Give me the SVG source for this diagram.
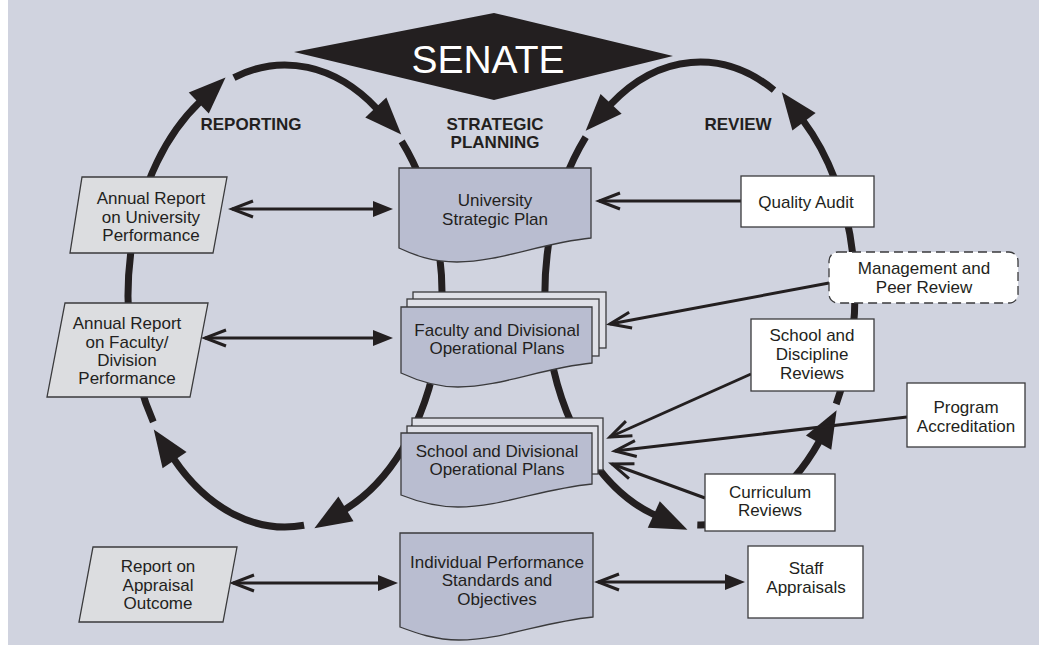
<svg xmlns="http://www.w3.org/2000/svg" width="1039" height="658" viewBox="0 0 1039 658">
<style>
text{font-family:"Liberation Sans",Arial,Helvetica,sans-serif;fill:#231f20;font-size:17px;text-anchor:middle}
.lbl{font-weight:bold}
.big{fill:none;stroke:#231f20;stroke-width:7;marker-end:url(#bigHead)}
.bigplain{fill:none;stroke:#231f20;stroke-width:7}
.doc{fill:#b9bdd0;stroke:#3a3a3c;stroke-width:1.3}
.page{fill:#dfe0e7;stroke:#3a3a3c;stroke-width:1.3}
.rep{fill:#dcdde0;stroke:#3a3a3c;stroke-width:1.3}
.box{fill:#ffffff;stroke:#3a3a3c;stroke-width:1.3}
.dash{fill:#ffffff;stroke:#3a3a3c;stroke-width:1.3;stroke-dasharray:9 5}
.thin{fill:none;stroke:#231f20;stroke-width:3;marker-end:url(#chev)}
.dbl{fill:none;stroke:#231f20;stroke-width:3;marker-start:url(#chev);marker-end:url(#tri)}
</style>
<defs>
<marker id="bigHead" markerUnits="userSpaceOnUse" viewBox="-2 -16 40 32" refX="0" refY="0" markerWidth="40" markerHeight="32" orient="auto">
<path d="M-1,-14.5 L36,0 L-1,14.5 Z" fill="#231f20"/>
</marker>
<marker id="chev" markerUnits="userSpaceOnUse" viewBox="-26 -13 30 26" refX="0" refY="0" markerWidth="30" markerHeight="26" orient="auto-start-reverse">
<path d="M-21,-8 L0,0 L-21,8" fill="none" stroke="#231f20" stroke-width="3"/>
</marker>
<marker id="tri" markerUnits="userSpaceOnUse" viewBox="-12 -10 24 20" refX="0" refY="0" markerWidth="24" markerHeight="20" orient="auto">
<path d="M-10,-8 L10,0 L-10,8 Z" fill="#231f20"/>
</marker>
</defs>
<rect x="0" y="0" width="1039" height="658" fill="#ffffff"/>
<rect x="8" y="0" width="1031" height="645" fill="#d0d3df"/>

<g id="senate">
<polygon points="294,52 494,13 673,56 494,100" fill="#231f20"/>
<text x="488" y="73" style="font-size:39px;fill:#ffffff">SENATE</text>
</g>

<g id="labels">
<text class="lbl" x="251" y="130">REPORTING</text>
<text class="lbl" x="495" y="130">STRATEGIC</text>
<text class="lbl" x="495" y="148">PLANNING</text>
<text class="lbl" x="738" y="130">REVIEW</text>
</g>

<g id="connectors">
<path class="big" d="M304.1,525.3 A157,231 0 0 1 174.0,459.3"/>
<path class="big" d="M153.3,421.8 A157,231 0 0 1 199.5,102.3"/>
<path class="big" d="M233.9,77.6 A157,231 0 0 1 376.5,108.3"/>
<path class="big" d="M401.7,141.4 A157,231 0 0 1 345.1,509.4"/>
<path class="big" d="M774.0,90.1 A155,231.5 0 0 0 610.4,104.6"/>
<path class="big" d="M585.7,137.1 A155,231.5 0 0 0 654.7,514.9"/>
<path class="big" d="M697.3,525.0 A155,231.5 0 0 0 819.1,441.7"/>
<path class="big" d="M836.2,404.0 A155,231.5 0 0 0 803.4,121.0"/>

<path class="dbl" d="M232,209 L383,209"/>
<path class="dbl" d="M205,338 L383,338"/>
<path class="dbl" d="M233,583 L388,583"/>
<path class="dbl" d="M598,582 L735,582"/>

<path class="thin" d="M741,201 L599,201"/>
<path class="thin" d="M829,283 L610,324"/>
<path class="thin" d="M751,374 L610,437"/>
<path class="thin" d="M907,417 L615,451"/>
<path class="thin" d="M705,498 L612,464"/>
</g>

<g id="usp">
<path class="doc" d="M399,168 H591 V238 C540,243 500,262 457,262 C432,262 414,255 399,248 Z"/>
<text x="495" y="206">University</text>
<text x="495" y="225">Strategic Plan</text>
</g>

<g id="fdop">
<rect class="page" x="413" y="292" width="193" height="56"/>
<rect class="page" x="407" y="299" width="192" height="57"/>
<path class="doc" d="M401,307 H592 V363 C541,368 501,387 458,387 C434,387 416,380 401,373 Z"/>
<text x="497" y="336">Faculty and Divisional</text>
<text x="497" y="354">Operational Plans</text>
</g>

<g id="sdop">
<rect class="page" x="412" y="418" width="191" height="52"/>
<rect class="page" x="407" y="426" width="191" height="48"/>
<path class="doc" d="M401,433 H592 V484 C541,489 501,507 458,507 C434,507 416,501 401,495 Z"/>
<text x="497" y="457">School and Divisional</text>
<text x="497" y="475">Operational Plans</text>
</g>

<g id="ipso">
<path class="doc" d="M400,533 H593 V617 C542,622 502,640 459,640 C435,640 416,633 400,627 Z"/>
<text x="497" y="568">Individual Performance</text>
<text x="497" y="586">Standards and</text>
<text x="497" y="605">Objectives</text>
</g>

<g id="ar-univ">
<polygon class="rep" points="82,177 227,177 213,253 70,253"/>
<text x="151" y="204">Annual Report</text>
<text x="151" y="223">on University</text>
<text x="151" y="241">Performance</text>
</g>

<g id="ar-fac">
<polygon class="rep" points="65,303 208,303 190,397 47,397"/>
<text x="127" y="329">Annual Report</text>
<text x="127" y="348">on Faculty/</text>
<text x="127" y="366">Division</text>
<text x="127" y="384">Performance</text>
</g>

<g id="rao">
<polygon class="rep" points="93,547 237,547 223,622 79,622"/>
<text x="158" y="572">Report on</text>
<text x="158" y="591">Appraisal</text>
<text x="158" y="609">Outcome</text>
</g>

<g id="qa">
<rect class="box" x="741" y="176" width="133" height="51"/>
<text x="806" y="208">Quality Audit</text>
</g>

<g id="mpr">
<rect class="dash" x="829" y="252" width="189" height="51" rx="9" ry="9"/>
<text x="924" y="274">Management and</text>
<text x="924" y="293">Peer Review</text>
</g>

<g id="sdr">
<rect class="box" x="751" y="319" width="123" height="72"/>
<text x="812" y="341">School and</text>
<text x="812" y="360">Discipline</text>
<text x="812" y="379">Reviews</text>
</g>

<g id="pa">
<rect class="box" x="907" y="383" width="118" height="64"/>
<text x="966" y="413">Program</text>
<text x="966" y="432">Accreditation</text>
</g>

<g id="cr">
<rect class="box" x="705" y="474" width="130" height="57"/>
<text x="770" y="498">Curriculum</text>
<text x="770" y="516">Reviews</text>
</g>

<g id="sa">
<rect class="box" x="748" y="546" width="115" height="72"/>
<text x="806" y="574">Staff</text>
<text x="806" y="593">Appraisals</text>
</g>
</svg>
